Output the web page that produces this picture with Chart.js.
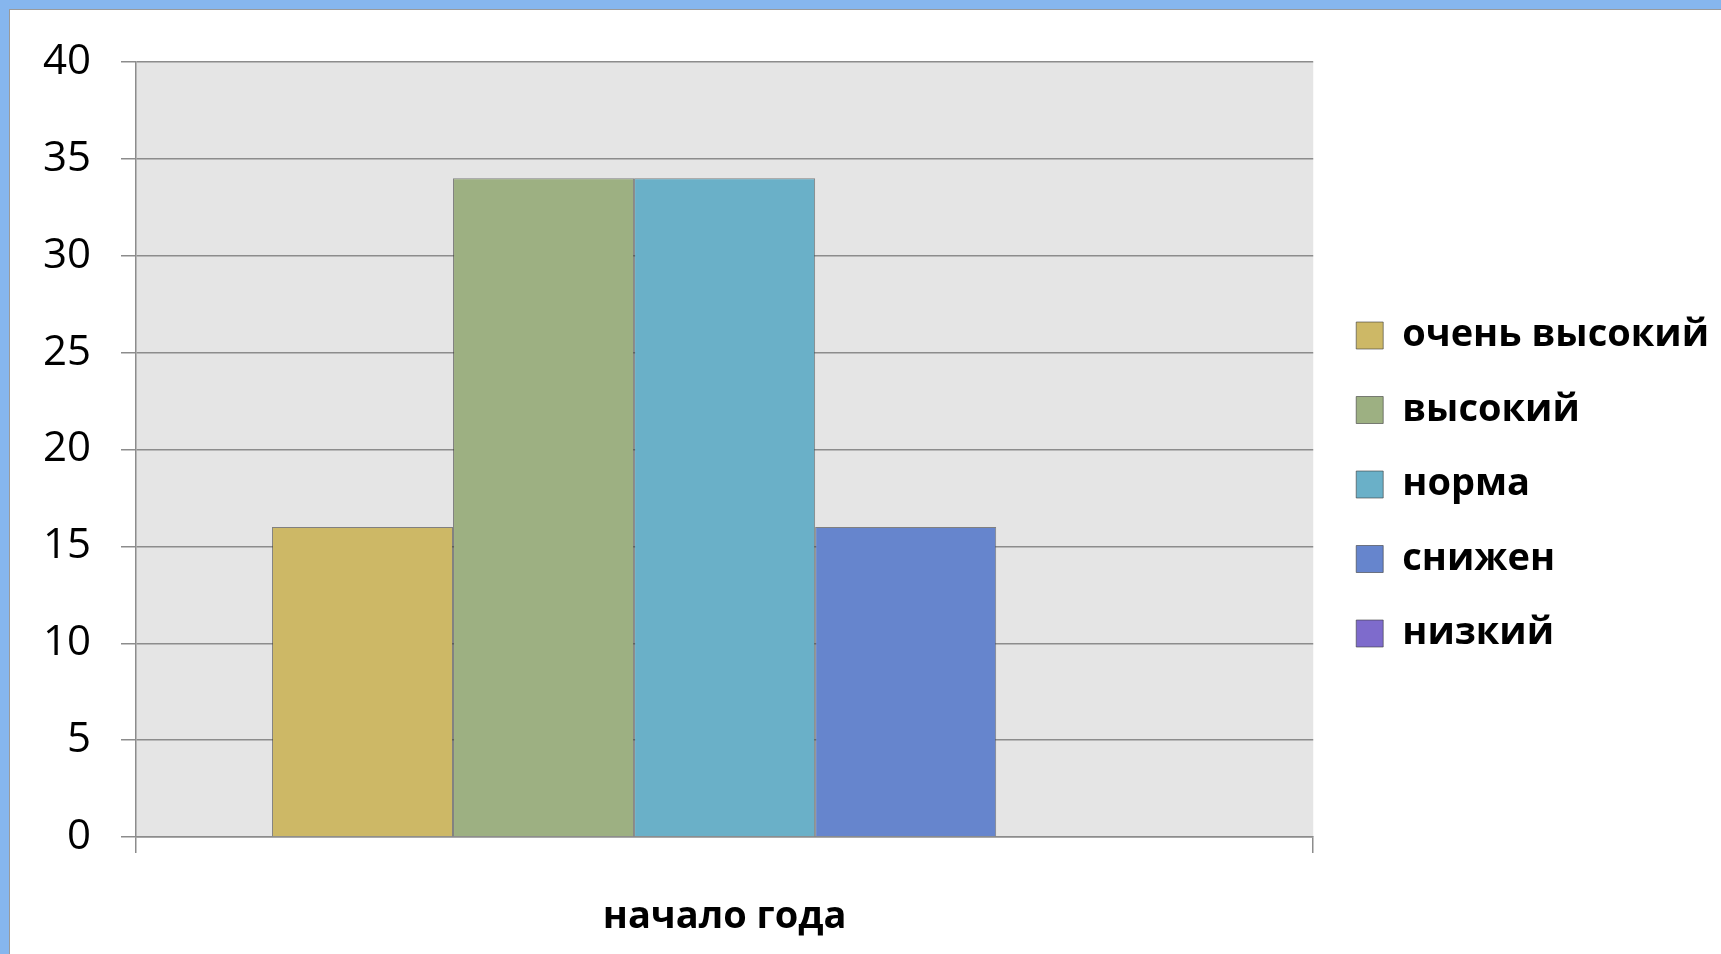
<!DOCTYPE html>
<html>
<head>
<meta charset="utf-8">
<script src="https://cdn.jsdelivr.net/npm/chart.js@4/dist/chart.umd.min.js"></script>
<style>
  html, body { margin: 0; padding: 0; width: 1721px; height: 954px; overflow: hidden; background: #86b6ee; }
  #panel { position: absolute; left: 9px; top: 9px; right: 0; bottom: 0; background: #ffffff; border-left: 1px solid #9a9a9a; border-top: 1px solid #9a9a9a; }
  #c { position: absolute; left: 0; top: 0; }
</style>
</head>
<body>
<div id="panel"></div>
<canvas id="c" width="1721" height="954"></canvas>
<script>
const categories = ['начало года'];
const seriesNames = ['очень высокий', 'высокий', 'норма', 'снижен', 'низкий'];
const seriesValues = [[16], [34], [34], [16], [0]];
const seriesColors = ['#cdb866', '#9db082', '#6ab0c8', '#6685cd', '#7e6bcc'];
const yTicks = [0, 5, 10, 15, 20, 25, 30, 35, 40];

const plotBg = {
  id: 'plotBg',
  beforeDraw(chart) {
    const a = chart.chartArea, ctx = chart.ctx;
    ctx.save();
    ctx.fillStyle = '#e5e5e5';
    ctx.fillRect(a.left, a.top, a.right - a.left, a.bottom - a.top);
    ctx.restore();
  }
};

new Chart(document.getElementById('c'), {
  type: 'bar',
  data: {
    labels: categories,
    datasets: seriesNames.map((n, i) => ({
      label: n,
      data: seriesValues[i],
      backgroundColor: seriesColors[i],
      borderColor: 'rgba(60,60,60,0.6)',
      borderWidth: 1,
      categoryPercentage: 0.769,
      barPercentage: 1.0
    }))
  },
  options: {
    responsive: false,
    animation: false,
    devicePixelRatio: 1,
    layout: { padding: { top: 62, left: 0, right: 2, bottom: 0 } },
    plugins: {
      tooltip: { enabled: false },
      legend: {
        position: 'right',
        align: 'start',
        maxWidth: 401.5,
        title: { display: true, text: '', font: { size: 10, lineHeight: 1 }, padding: { top: 208, bottom: 0 } },
        labels: {
          boxWidth: 27,
          boxHeight: 27,
          padding: 36.5,
          color: '#000000',
          font: { family: "'Open Sans', 'Noto Sans', sans-serif", size: 38, weight: 'bold' }
        }
      }
    },
    scales: {
      x: {
        grid: { offset: true, drawOnChartArea: false, drawTicks: true, tickLength: 16, color: '#8c8c8c', lineWidth: 1.5 },
        border: { display: true, color: '#8c8c8c', width: 1.5 },
        ticks: { color: '#000000', padding: 41, font: { family: "'Open Sans', 'Noto Sans', sans-serif", size: 38, weight: 'bold' } },
        afterFit(s) { s.height = 117; }
      },
      y: {
        min: 0, max: 40,
        afterBuildTicks(s) { s.ticks = yTicks.map(v => ({ value: v })); },
        grid: { color: '#8c8c8c', lineWidth: 1.5, tickLength: 15, drawTicks: true },
        border: { display: true, color: '#8c8c8c', width: 1.5 },
        ticks: { color: '#000000', padding: 30, font: { family: "'Open Sans', 'Noto Sans', sans-serif", size: 42 } },
        afterFit(s) { s.width = 136; }
      },
      spacer: {
        type: 'linear',
        position: 'right',
        display: true,
        grid: { display: false },
        border: { display: false },
        ticks: { display: false },
        afterFit(s) { s.width = 6.5; }
      }
    }
  },
  plugins: [plotBg]
});
</script>
</body>
</html>
